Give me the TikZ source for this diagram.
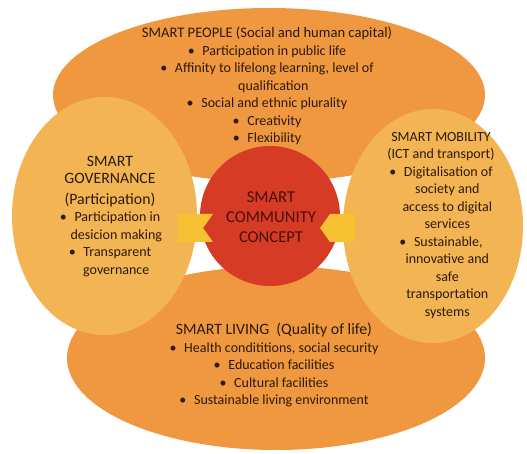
\documentclass[tikz,border=0pt]{standalone}
\usepackage{fontspec}
\setmainfont{Carlito}
\usetikzlibrary{shapes.geometric}

\definecolor{petal}{HTML}{F0983F}
\definecolor{sidepetal}{HTML}{F3B553}
\definecolor{core}{HTML}{D63B25}
\definecolor{tabfill}{HTML}{F6C233}
\definecolor{ink}{HTML}{2B190B}
\definecolor{coreink}{HTML}{4A1008}

% bullet item, indented continuation line, larger heading
\newcommand{\itm}{\textbullet\hspace{0.55em}}
\newcommand{\cont}{\hspace*{0.9em}}
\newcommand{\hd}[1]{{\fontsize{15.8}{17.5}\selectfont #1}}

\begin{document}
\begin{tikzpicture}[x=1pt,y=-1pt,
  blob/.style={ellipse, inner sep=0pt, draw=none},
  txt/.style={text=ink, font=\fontsize{14}{17.5}\selectfont, align=center, inner sep=0pt},
  coretxt/.style={text=coreink, font=\fontsize{16.6}{20}\selectfont, align=center, inner sep=0pt},
]
\useasboundingbox (0,0) rectangle (527,454);

% outer petals
\node[blob, fill=petal, minimum width=432pt, minimum height=174pt] (people) at (269,95) {};
\node[blob, fill=petal, minimum width=418pt, minimum height=184pt] (living) at (276,358) {};
\node[blob, fill=sidepetal, minimum width=185pt, minimum height=238pt] (gov) at (104.5,216) {};
\node[blob, fill=sidepetal, minimum width=180pt, minimum height=234pt] (mob) at (433,226) {};

% central circle
\node[circle, fill=core, minimum size=140pt, inner sep=0pt] (core) at (270,216) {};

% notched tabs joining the side petals to the circle
\fill[tabfill] (178,214) -- (213,214) -- (203,228) -- (213,242) -- (178,242) -- cycle;
\fill[tabfill] (355,214) -- (330,214) -- (320,228) -- (330,242) -- (355,242) -- cycle;

% texts
\node[txt] (peopletxt) at (267,86) {{\fontsize{14.6}{17.5}\selectfont SMART PEOPLE (Social and human capital)}\\
  \itm Participation in public life\\
  \itm Affinity to lifelong learning, level of\\
  \cont qualification\\
  \itm Social and ethnic plurality\\
  \itm Creativity\\
  \itm Flexibility};

\node[txt] (govtxt) at (110,216.5) {\hd{SMART}\\
  \hd{GOVERNANCE}\\[3pt]
  \hd{(Participation)}\\
  \itm Participation in\\
  \cont desicion making\\
  \itm Transparent\\
  \cont governance};

\node[txt] (mobtxt) at (441,225.5) {SMART MOBILITY\\
  (ICT and transport)\\
  \itm Digitalisation of\\
  \cont society and\\
  \cont access to digital\\
  \cont services\\
  \itm Sustainable,\\
  \cont innovative and\\
  \cont safe\\
  \cont transportation\\
  \cont systems};

\node[txt] (livingtxt) at (274,365) {\hd{SMART LIVING\ \ (Quality of life)}\\
  \itm Health condititions, social security\\
  \itm Education facilities\\
  \itm Cultural facilities\\
  \itm Sustainable living environment};

\node[coretxt] (coretext) at (271,217) {SMART\\ COMMUNITY\\ CONCEPT};
\end{tikzpicture}
\end{document}
